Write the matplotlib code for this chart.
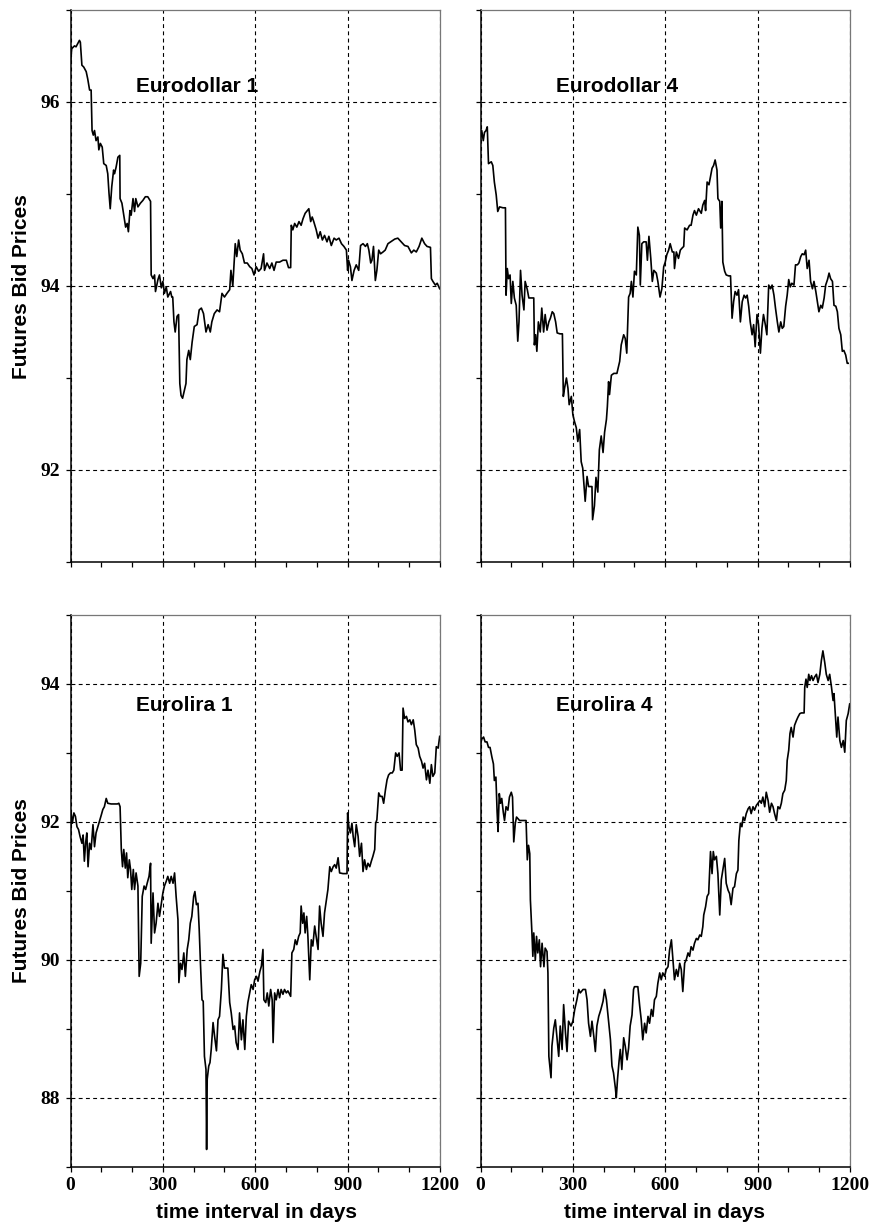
import numpy as np
import matplotlib as mpl
import matplotlib.pyplot as plt
from matplotlib.ticker import MultipleLocator

# ---- data: (day, bid price) ------------------------------------------------
ed1_days = [0, 4, 13, 18, 29, 32, 37, 43, 51, 56, 62, 67, 70, 74, 78, 83, 89, 92, 97, 103,
            108, 116, 121, 125, 129, 134, 140, 143, 148, 154, 160, 161, 167, 172, 179, 184,
            188, 193, 197, 203, 208, 212, 219, 227, 235, 243, 251, 260, 262, 268, 273, 276,
            284, 289, 295, 300, 305, 311, 316, 325, 329, 332, 336, 340, 346, 351, 355, 359,
            364, 370, 375, 378, 384, 389, 395, 402, 411, 418, 425, 432, 440, 447, 454, 459,
            467, 476, 484, 492, 500, 508, 517, 521, 527, 535, 540, 546, 551, 558, 565, 574,
            582, 589, 596, 603, 611, 619, 627, 630, 638, 647, 654, 661, 668, 679, 690, 701,
            708, 715, 717, 722, 728, 735, 742, 749, 755, 762, 769, 774, 780, 785, 790, 798,
            804, 811, 818, 825, 833, 839, 847, 856, 863, 872, 880, 888, 896, 900, 903, 909,
            914, 921, 928, 936, 942, 950, 958, 964, 969, 975, 979, 984, 990, 995, 1001, 1007,
            1015, 1022, 1031, 1040, 1053, 1063, 1074, 1085, 1096, 1107, 1115, 1123, 1132,
            1141, 1150, 1158, 1169, 1172, 1177, 1185, 1191, 1199]
ed1_price = [96.43, 96.58, 96.61, 96.60, 96.67, 96.65, 96.40, 96.38, 96.33, 96.25, 96.13, 96.13,
             95.69, 95.64, 95.69, 95.58, 95.62, 95.48, 95.55, 95.51, 95.33, 95.31, 95.22, 95.01,
             94.84, 95.08, 95.26, 95.22, 95.29, 95.40, 95.42, 94.95, 94.90, 94.79, 94.64, 94.68,
             94.59, 94.82, 94.77, 94.95, 94.81, 94.95, 94.86, 94.90, 94.93, 94.97, 94.97, 94.92,
             94.12, 94.08, 94.12, 93.94, 94.07, 94.12, 93.98, 94.05, 93.92, 93.99, 93.88, 93.94,
             93.88, 93.88, 93.61, 93.50, 93.67, 93.69, 92.94, 92.81, 92.78, 92.87, 92.94, 93.20,
             93.30, 93.20, 93.39, 93.56, 93.58, 93.74, 93.76, 93.70, 93.50, 93.58, 93.50, 93.61,
             93.70, 93.74, 93.72, 93.92, 93.88, 93.92, 93.96, 94.17, 94.00, 94.46, 94.32, 94.50,
             94.39, 94.35, 94.25, 94.25, 94.21, 94.19, 94.12, 94.21, 94.16, 94.19, 94.35, 94.17,
             94.25, 94.19, 94.25, 94.17, 94.26, 94.26, 94.28, 94.28, 94.20, 94.20, 94.66, 94.61,
             94.68, 94.64, 94.70, 94.66, 94.73, 94.79, 94.82, 94.84, 94.70, 94.75, 94.70, 94.61,
             94.52, 94.59, 94.50, 94.55, 94.48, 94.54, 94.44, 94.52, 94.50, 94.52, 94.46, 94.43,
             94.39, 94.17, 94.28, 94.21, 94.06, 94.17, 94.23, 94.17, 94.44, 94.46, 94.43, 94.46,
             94.39, 94.25, 94.28, 94.43, 94.06, 94.17, 94.39, 94.35, 94.37, 94.39, 94.46, 94.48,
             94.51, 94.52, 94.48, 94.44, 94.43, 94.36, 94.39, 94.37, 94.43, 94.52, 94.46, 94.43,
             94.42, 94.08, 94.05, 94.01, 94.03, 93.97]

ed4_days = [0, 4, 9, 13, 18, 22, 26, 35, 40, 45, 51, 56, 62, 73, 81, 83, 87, 91, 96, 100,
            105, 110, 116, 121, 125, 130, 135, 141, 145, 152, 157, 165, 173, 175, 179, 183,
            188, 194, 199, 205, 210, 216, 222, 227, 233, 238, 244, 249, 258, 266, 269, 273,
            279, 284, 288, 295, 300, 305, 311, 316, 322, 327, 332, 336, 340, 346, 351, 362,
            364, 370, 375, 381, 386, 392, 398, 403, 409, 412, 416, 419, 425, 433, 443, 452,
            457, 465, 470, 475, 481, 486, 490, 495, 500, 506, 511, 516, 519, 524, 530, 538,
            542, 547, 553, 558, 563, 571, 576, 583, 589, 595, 600, 605, 611, 616, 623, 628,
            630, 636, 643, 649, 654, 660, 663, 671, 679, 684, 690, 695, 701, 708, 717, 722,
            728, 731, 736, 742, 746, 752, 757, 762, 768, 771, 777, 780, 784, 787, 793, 798,
            806, 812, 817, 822, 827, 833, 838, 844, 850, 856, 861, 866, 871, 876, 882, 887,
            892, 898, 903, 909, 914, 919, 925, 930, 936, 942, 947, 953, 958, 964, 969, 975,
            980, 985, 991, 996, 1001, 1006, 1011, 1018, 1023, 1029, 1034, 1040, 1045, 1051,
            1056, 1061, 1067, 1072, 1078, 1083, 1089, 1094, 1099, 1105, 1110, 1116, 1121,
            1127, 1132, 1137, 1143, 1148, 1154, 1159, 1164, 1170, 1175, 1180, 1186, 1191, 1194]
ed4_price = [95.60, 95.69, 95.58, 95.67, 95.69, 95.73, 95.33, 95.35, 95.31, 95.13, 94.99, 94.81,
             94.86, 94.85, 94.85, 93.90, 94.19, 94.08, 94.12, 93.81, 94.05, 93.87, 93.79, 93.40,
             93.61, 94.17, 93.90, 93.74, 94.05, 93.96, 93.87, 93.87, 93.87, 93.36, 93.47, 93.29,
             93.61, 93.50, 93.76, 93.50, 93.69, 93.52, 93.61, 93.65, 93.72, 93.70, 93.61, 93.49,
             93.48, 93.48, 92.80, 92.89, 93.00, 92.89, 92.71, 92.80, 92.60, 92.53, 92.46, 92.31,
             92.44, 92.09, 92.02, 91.84, 91.66, 91.93, 91.82, 91.82, 91.46, 91.61, 91.92, 91.76,
             92.22, 92.37, 92.19, 92.41, 92.55, 92.69, 92.96, 92.82, 93.03, 93.05, 93.05, 93.18,
             93.36, 93.47, 93.43, 93.27, 93.88, 93.92, 94.05, 93.88, 94.16, 94.12, 94.64, 94.55,
             94.01, 94.46, 94.48, 94.48, 94.28, 94.54, 94.30, 94.05, 94.17, 94.14, 94.05, 93.88,
             93.97, 94.21, 94.26, 94.34, 94.39, 94.46, 94.37, 94.37, 94.19, 94.37, 94.30, 94.39,
             94.41, 94.43, 94.63, 94.61, 94.66, 94.66, 94.77, 94.82, 94.77, 94.84, 94.79, 94.88,
             94.93, 94.82, 95.13, 95.10, 95.17, 95.28, 95.31, 95.37, 95.26, 94.95, 94.92, 94.63,
             94.92, 94.26, 94.16, 94.12, 94.11, 94.11, 93.65, 93.83, 93.94, 93.90, 93.96, 93.61,
             93.83, 93.90, 93.87, 93.90, 93.78, 93.61, 93.47, 93.58, 93.34, 93.69, 93.58, 93.27,
             93.54, 93.69, 93.58, 93.47, 94.01, 93.97, 94.01, 93.90, 93.76, 93.61, 93.50, 93.61,
             93.54, 93.56, 93.78, 93.90, 94.07, 93.99, 94.03, 94.01, 94.23, 94.23, 94.25, 94.32,
             94.35, 94.34, 94.39, 94.19, 94.28, 94.05, 93.97, 94.05, 93.94, 93.83, 93.72, 93.79,
             93.76, 93.87, 94.01, 94.07, 94.14, 94.08, 94.05, 93.79, 93.78, 93.72, 93.54, 93.47,
             93.29, 93.30, 93.25, 93.16, 93.16]

el1_days = [0, 2, 6, 11, 16, 21, 26, 31, 37, 41, 45, 49, 53, 57, 62, 67, 73, 78, 83, 89,
            94, 100, 105, 110, 116, 121, 132, 143, 152, 157, 161, 165, 169, 173, 178, 182,
            186, 191, 195, 199, 204, 208, 213, 219, 223, 228, 233, 239, 244, 249, 255, 260,
            262, 268, 273, 278, 284, 289, 295, 300, 305, 311, 316, 322, 327, 333, 338, 343,
            349, 352, 357, 362, 368, 373, 379, 384, 389, 394, 400, 404, 409, 414, 418, 422,
            427, 431, 435, 440, 442, 444, 449, 453, 457, 463, 468, 474, 479, 484, 490, 495,
            500, 511, 517, 522, 528, 533, 538, 544, 549, 555, 560, 566, 571, 576, 582, 587,
            593, 598, 604, 609, 615, 620, 625, 628, 634, 639, 644, 650, 655, 658, 663, 668,
            674, 679, 684, 690, 695, 701, 706, 715, 719, 725, 730, 735, 741, 746, 749, 754,
            758, 762, 767, 771, 777, 782, 787, 793, 798, 804, 809, 814, 820, 825, 831, 836,
            842, 847, 853, 858, 863, 869, 874, 885, 898, 900, 904, 909, 914, 918, 923, 928,
            934, 939, 945, 950, 955, 961, 966, 972, 977, 982, 988, 991, 995, 1001, 1006, 1012,
            1017, 1023, 1028, 1033, 1039, 1045, 1050, 1056, 1061, 1067, 1072, 1077, 1080, 1085,
            1091, 1096, 1102, 1107, 1113, 1118, 1123, 1129, 1134, 1140, 1145, 1150, 1156, 1161,
            1167, 1172, 1177, 1183, 1188, 1194, 1199]
el1_price = [91.84, 92.13, 91.98, 92.13, 92.08, 91.93, 91.89, 91.79, 91.69, 91.81, 91.43, 91.69,
             91.84, 91.35, 91.69, 91.60, 91.96, 91.64, 91.84, 91.93, 92.01, 92.10, 92.18, 92.22,
             92.34, 92.27, 92.26, 92.26, 92.26, 92.27, 92.22, 91.60, 91.35, 91.60, 91.33, 91.55,
             91.19, 91.45, 91.31, 91.02, 91.31, 91.02, 91.26, 91.07, 89.76, 89.95, 90.92, 91.07,
             91.02, 91.11, 91.21, 91.40, 90.24, 90.97, 90.39, 90.53, 90.82, 90.63, 90.82, 90.97,
             91.07, 91.14, 91.21, 91.11, 91.21, 91.11, 91.26, 90.92, 90.58, 89.67, 89.95, 89.86,
             90.10, 89.76, 90.15, 90.29, 90.53, 90.63, 90.92, 90.99, 90.80, 90.82, 90.44, 89.95,
             89.42, 89.40, 88.60, 88.41, 87.25, 88.27, 88.46, 88.51, 88.70, 89.09, 88.89, 88.68,
             89.13, 89.18, 89.57, 90.08, 89.88, 89.88, 89.38, 89.23, 88.99, 89.04, 88.80, 88.70,
             89.23, 88.84, 89.13, 88.70, 89.18, 89.38, 89.52, 89.64, 89.57, 89.71, 89.76, 89.69,
             89.83, 89.91, 90.15, 89.42, 89.38, 89.52, 89.33, 89.57, 89.42, 88.80, 89.52, 89.42,
             89.57, 89.45, 89.57, 89.50, 89.57, 89.52, 89.55, 89.47, 90.10, 90.15, 90.29, 90.22,
             90.34, 90.39, 90.78, 90.53, 90.68, 90.39, 90.63, 90.34, 89.71, 90.29, 90.20, 90.49,
             90.34, 90.15, 90.78, 90.53, 90.34, 90.68, 90.87, 91.02, 91.35, 91.28, 91.35, 91.38,
             91.33, 91.48, 91.26, 91.25, 91.25, 92.13, 91.93, 91.84, 91.98, 91.79, 91.64, 91.96,
             91.79, 91.50, 91.69, 91.28, 91.45, 91.31, 91.40, 91.35, 91.43, 91.50, 91.60, 91.98,
             92.03, 92.42, 92.37, 92.37, 92.27, 92.47, 92.61, 92.68, 92.71, 92.71, 92.75, 93.00,
             92.95, 93.00, 92.75, 92.75, 93.65, 93.50, 93.53, 93.45, 93.48, 93.41, 93.48, 93.33,
             93.12, 93.07, 92.95, 92.88, 92.78, 92.85, 92.61, 92.75, 92.56, 92.83, 92.66, 92.71,
             93.09, 93.07, 93.24]

el4_days = [0, 4, 10, 15, 21, 26, 31, 37, 42, 45, 50, 54, 57, 61, 65, 69, 74, 78, 83, 89,
            94, 100, 104, 108, 113, 117, 127, 138, 148, 152, 156, 160, 162, 167, 170, 173,
            178, 182, 186, 191, 195, 200, 206, 210, 216, 219, 222, 224, 229, 232, 238, 243,
            249, 254, 259, 265, 270, 276, 281, 286, 294, 300, 306, 313, 319, 324, 333, 341,
            346, 351, 357, 362, 368, 373, 378, 384, 391, 398, 403, 409, 414, 422, 427, 432,
            438, 441, 445, 450, 454, 459, 465, 470, 476, 481, 486, 492, 497, 500, 511, 517,
            522, 527, 533, 538, 544, 549, 555, 560, 565, 571, 576, 582, 587, 592, 598, 603,
            609, 614, 620, 625, 630, 636, 641, 647, 652, 657, 663, 668, 674, 679, 684, 690,
            695, 701, 706, 712, 717, 722, 725, 731, 736, 741, 744, 747, 752, 756, 760, 766,
            771, 777, 782, 787, 793, 798, 804, 809, 814, 820, 825, 831, 836, 839, 844, 849,
            853, 858, 863, 869, 874, 879, 885, 890, 896, 901, 907, 912, 917, 923, 928, 934,
            939, 945, 950, 955, 961, 966, 972, 977, 982, 988, 993, 996, 1001, 1005, 1009, 1015,
            1020, 1026, 1031, 1037, 1042, 1051, 1053, 1057, 1061, 1066, 1070, 1075, 1080, 1085,
            1091, 1096, 1102, 1107, 1112, 1118, 1123, 1129, 1134, 1140, 1145, 1148, 1153, 1157,
            1161, 1167, 1172, 1178, 1183, 1188, 1194, 1199]
el4_price = [93.13, 93.20, 93.23, 93.16, 93.16, 93.08, 93.08, 92.94, 92.84, 92.60, 92.65, 92.14,
             91.86, 92.41, 92.27, 92.34, 92.14, 92.02, 92.22, 92.17, 92.36, 92.43, 92.36, 91.71,
             91.98, 92.07, 92.02, 92.02, 92.02, 91.45, 91.66, 91.54, 90.87, 90.39, 90.05, 90.39,
             90.00, 90.34, 90.10, 90.29, 89.90, 90.24, 89.90, 90.17, 90.12, 89.81, 88.60, 88.51,
             88.29, 88.75, 89.01, 89.13, 88.84, 88.60, 89.04, 88.70, 89.35, 88.94, 88.67, 89.11,
             89.04, 89.11, 89.28, 89.42, 89.57, 89.52, 89.57, 89.57, 89.42, 89.08, 88.89, 89.11,
             88.89, 88.67, 89.04, 89.18, 89.28, 89.40, 89.57, 89.42, 89.20, 88.84, 88.46, 88.36,
             88.14, 88.00, 88.27, 88.53, 88.70, 88.41, 88.87, 88.75, 88.55, 88.72, 89.04, 89.20,
             89.57, 89.61, 89.61, 89.33, 89.13, 88.84, 89.08, 88.94, 89.18, 89.08, 89.28, 89.18,
             89.42, 89.47, 89.66, 89.81, 89.71, 89.81, 89.76, 89.86, 89.90, 90.14, 90.29, 90.00,
             89.71, 89.86, 89.76, 89.95, 89.86, 89.54, 89.95, 90.00, 90.10, 90.05, 90.19, 90.14,
             90.24, 90.31, 90.29, 90.36, 90.34, 90.48, 90.65, 90.77, 90.92, 90.96, 91.25, 91.57,
             91.25, 91.57, 91.45, 91.50, 91.25, 90.65, 91.16, 91.30, 91.47, 91.11, 91.01, 90.96,
             90.80, 91.04, 91.06, 91.25, 91.30, 91.73, 91.98, 91.93, 92.07, 92.02, 92.12, 92.19,
             92.22, 92.12, 92.22, 92.17, 92.24, 92.27, 92.31, 92.27, 92.36, 92.22, 92.43, 92.31,
             92.14, 92.27, 92.22, 92.12, 92.02, 92.22, 92.19, 92.27, 92.41, 92.46, 92.60, 92.89,
             93.04, 93.28, 93.37, 93.23, 93.40, 93.47, 93.52, 93.57, 93.58, 93.58, 93.95, 94.07,
             93.95, 94.14, 94.05, 94.12, 94.05, 94.10, 94.14, 94.02, 94.14, 94.34, 94.48, 94.31,
             94.14, 94.05, 94.14, 93.95, 93.76, 93.86, 93.52, 93.23, 93.52, 93.18, 93.08, 93.18,
             93.01, 93.47, 93.57, 93.71]

panel_names = ['Eurodollar 1', 'Eurodollar 4', 'Eurolira 1', 'Eurolira 4']
x_ticks = [0, 300, 600, 900, 1200]
top_ylim = (91, 97)
bottom_ylim = (87, 95)

# ---- figure ----------------------------------------------------------------
mpl.rcParams['axes.unicode_minus'] = False
W, H = 869.0, 1225.0
fig = plt.figure(figsize=(W / 100, H / 100), dpi=100)

tick_font = {'family': 'Liberation Serif', 'weight': 'bold', 'size': 14}
label_font = {'family': 'Liberation Sans', 'weight': 'bold', 'size': 15}


def make_axes(left_px, top_px, bottom_px):
    return fig.add_axes([left_px / W, (H - bottom_px) / H, 369.5 / W, (bottom_px - top_px) / H])


def draw_panel(ax, days, price, name, ylim, title_y, show_x, show_y, title_x):
    ax.plot(days, price, color='black', lw=1.2)
    ax.set_xlim(0, 1200)
    ax.set_ylim(*ylim)
    ax.xaxis.set_major_locator(MultipleLocator(300))
    ax.xaxis.set_minor_locator(MultipleLocator(100))
    ax.yaxis.set_major_locator(MultipleLocator(2))
    ax.yaxis.set_minor_locator(MultipleLocator(1))
    ax.grid(True, which='major', color='black', lw=0.8, ls=(0, (3.5, 3)))
    ax.tick_params(which='both', direction='out', length=3.5, width=0.9, color='black')
    ax.tick_params(axis='both', pad=4)
    for side in ['left', 'bottom']:
        ax.spines[side].set_linewidth(1.1)
        ax.spines[side].set_color('black')
    for side in ['top', 'right']:
        ax.spines[side].set_linewidth(0.9)
        ax.spines[side].set_color('#777777')
    ax.set_xticks(x_ticks)
    if show_x:
        ax.set_xticklabels([str(t) for t in x_ticks], fontdict=tick_font)
    else:
        ax.set_xticklabels([])
    if show_y:
        yt = np.arange(ylim[0] + 1, ylim[1], 2)
        ax.set_yticks(yt)
        ax.set_yticklabels([str(int(v)) for v in yt], fontdict=tick_font)
    else:
        ax.set_yticklabels([])
    ax.text(title_x, title_y, name, transform=ax.transAxes, ha='left', va='center',
            fontdict=label_font)


ax1 = make_axes(70.5, 10, 562)
ax2 = make_axes(480.5, 10, 562)
ax3 = make_axes(70.5, 615, 1166.7)
ax4 = make_axes(480.5, 615, 1166.7)

draw_panel(ax1, ed1_days, ed1_price, panel_names[0], top_ylim, 0.862, False, True, 0.176)
draw_panel(ax2, ed4_days, ed4_price, panel_names[1], top_ylim, 0.862, False, False, 0.203)
draw_panel(ax3, el1_days, el1_price, panel_names[2], bottom_ylim, 0.836, True, True, 0.176)
draw_panel(ax4, el4_days, el4_price, panel_names[3], bottom_ylim, 0.836, True, False, 0.203)

# axis labels
fig.text(21.5 / W, 1 - 287 / H, 'Futures Bid Prices', rotation=90, ha='center', va='center',
         fontdict=label_font)
fig.text(21.5 / W, 1 - 891 / H, 'Futures Bid Prices', rotation=90, ha='center', va='center',
         fontdict=label_font)
fig.text(257 / W, 1 - 1212 / H, 'time interval in days', ha='center', va='center',
         fontdict=label_font)
fig.text(665 / W, 1 - 1212 / H, 'time interval in days', ha='center', va='center',
         fontdict=label_font)

plt.savefig('out.png', dpi=100)
